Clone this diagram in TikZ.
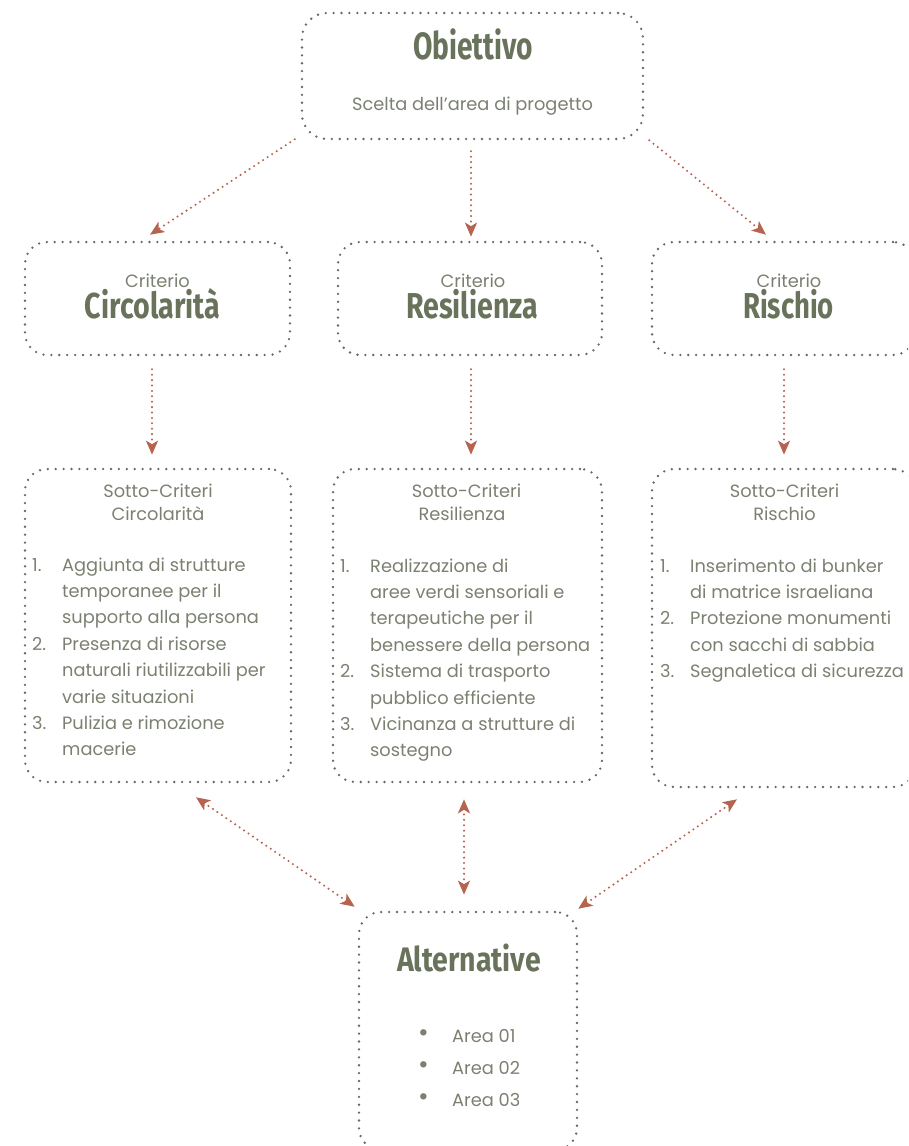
\documentclass[tikz,border=0pt]{standalone}
\usepackage{fontspec}
\setmainfont{Poppins}
\newfontfamily\headfont{Fira Sans}
\usetikzlibrary{arrows.meta}

\definecolor{txt}{HTML}{7B8171}
\definecolor{head}{HTML}{69725B}
\definecolor{dotc}{HTML}{666A60}
\definecolor{arr}{HTML}{B5644F}

% condensed heavy heading, squeezed to a given width
\newcommand{\hd}[3]{\resizebox{#1pt}{\height}{\headfont\bfseries\fontsize{#2}{#2}\selectfont #3}}
\newcommand{\itm}[1]{\makebox[30pt][l]{#1}}
\newcommand{\blt}{\makebox[34pt][l]{\raisebox{0.5pt}{\fontsize{26}{26}\selectfont •}}}

\tikzset{
  tip/.tip={Stealth[length=14pt,width=12pt,inset=3.5pt]},
  dotbox/.style={draw=dotc, line width=2.6pt, line cap=round,
    dash pattern=on 0pt off 7.9pt, rounded corners=22pt, inner sep=0pt},
  link/.style={draw=arr, line width=2.3pt, line cap=round,
    dash pattern=on 0pt off 5.4pt, -tip},
  dlink/.style={link, tip-tip},
  body/.style={text=txt, inner sep=0pt, font=\fontsize{17.8}{26.4}\selectfont},
  title/.style={text=head, inner sep=0pt, anchor=base},
}

\begin{document}
\begin{tikzpicture}[x=1pt, y=-1pt]
\useasboundingbox (0,0) rectangle (908,1146);
\clip (0,0) rectangle (908,1146);

% ---- boxes ----
\node[dotbox, rounded corners=25pt, minimum width=341pt, minimum height=126pt] (obj) at (472.5,76) {};
\node[dotbox, minimum width=265pt, minimum height=113pt] (c1) at (157.5,298.5) {};
\node[dotbox, minimum width=264pt, minimum height=113pt] (c2) at (470,298.5) {};
\node[dotbox, minimum width=263pt, minimum height=113pt] (c3) at (783.5,298.5) {};
\node[dotbox, minimum width=266pt, minimum height=313pt] (s1) at (158,625.5) {};
\node[dotbox, minimum width=269pt, minimum height=313pt] (s2) at (467.5,625.5) {};
\node[dotbox, minimum width=263pt, minimum height=318pt] (s3) at (783.5,628) {};
\node[dotbox, minimum width=218pt, minimum height=238pt] (alt) at (468,1031) {};

% ---- goal ----
\node[title] (tobj) at (473,59) {\hd{120}{38}{Obiettivo}};
\node[body, anchor=base] (tobjsub) at (472.5,110) {Scelta dell’area di progetto};

% ---- criteria ----
\node[body, anchor=base] (k1) at (157.5,287) {Criterio};
\node[body, anchor=base] (k2) at (473,287) {Criterio};
\node[body, anchor=base] (k3) at (789,287) {Criterio};
\node[title] (h1) at (152.5,318) {\hd{135}{36}{Circolarità}};
\node[title] (h2) at (472,318) {\hd{132}{36}{Resilienza}};
\node[title] (h3) at (788.5,318) {\hd{91}{36}{Rischio}};

% ---- sub-criteria ----
\node[body, anchor=base] (sa1) at (158,497) {Sotto-Criteri};
\node[body, anchor=base] (sb1) at (158,520) {Circolarità};
\node[body, anchor=base] (sa2) at (466.5,497) {Sotto-Criteri};
\node[body, anchor=base] (sb2) at (462,520) {Resilienza};
\node[body, anchor=base] (sa3) at (784.5,497) {Sotto-Criteri};
\node[body, anchor=base] (sb3) at (784.5,520) {Rischio};

\node[body, anchor=base west] (l1) at (32,571) {\begin{tabular}[t]{@{}l@{}}
\itm{1.}Aggiunta di strutture\\
\itm{}temporanee per il\\
\itm{}supporto alla persona\\
\itm{2.}Presenza di risorse\\
\itm{}naturali riutilizzabili per\\
\itm{}varie situazioni\\
\itm{3.}Pulizia e rimozione\\
\itm{}macerie
\end{tabular}};
\node[body, anchor=base west] (l2) at (340,572) {\begin{tabular}[t]{@{}l@{}}
\itm{1.}Realizzazione di\\
\itm{}aree verdi sensoriali e\\
\itm{}terapeutiche per il\\
\itm{}benessere della persona\\
\itm{2.}Sistema di trasporto\\
\itm{}pubblico efficiente\\
\itm{3.}Vicinanza a strutture di\\
\itm{}sostegno
\end{tabular}};
\node[body, anchor=base west] (l3) at (660,572) {\begin{tabular}[t]{@{}l@{}}
\itm{1.}Inserimento di bunker\\
\itm{}di matrice israeliana\\
\itm{2.}Protezione monumenti\\
\itm{}con sacchi di sabbia\\
\itm{3.}Segnaletica di sicurezza
\end{tabular}};

% ---- alternatives ----
\node[title] (talt) at (469,971) {\hd{144}{34}{Alternative}};
\node[body, anchor=base west, font=\fontsize{17.8}{32}\selectfont] (la) at (418,1042) {\begin{tabular}[t]{@{}l@{}}
\blt Area 01\\
\blt Area 02\\
\blt Area 03
\end{tabular}};

% ---- connectors ----
\draw[link] ([shift={(-6,-1)}]obj.south west) -- ([shift={(-7.5,-6)}]c1.north);
\draw[link] ([shift={(-1.5,11)}]obj.south) -- ([shift={(1,-4)}]c2.north);
\draw[link] ([shift={(5,0)}]obj.south east) -- ([shift={(-17.5,-6)}]c3.north);

\draw[link] ([shift={(-5.5,13)}]c1.south) -- ([shift={(-6,-13)}]s1.north);
\draw[link] ([shift={(1,13)}]c2.south) -- ([shift={(3.5,-13)}]s2.north);
\draw[link] ([shift={(0.5,13)}]c3.south) -- ([shift={(0.5,-13)}]s3.north);

\draw[dlink] ([shift={(38,14)}]s1.south) -- ([shift={(-3,-4)}]alt.north west);
\draw[dlink] ([shift={(-3.5,16)}]s2.south) -- ([shift={(-4,-16)}]alt.north);
\draw[dlink] ([shift={(-46.5,11)}]s3.south) -- ([shift={(0,-2)}]alt.north east);
\end{tikzpicture}
\end{document}
